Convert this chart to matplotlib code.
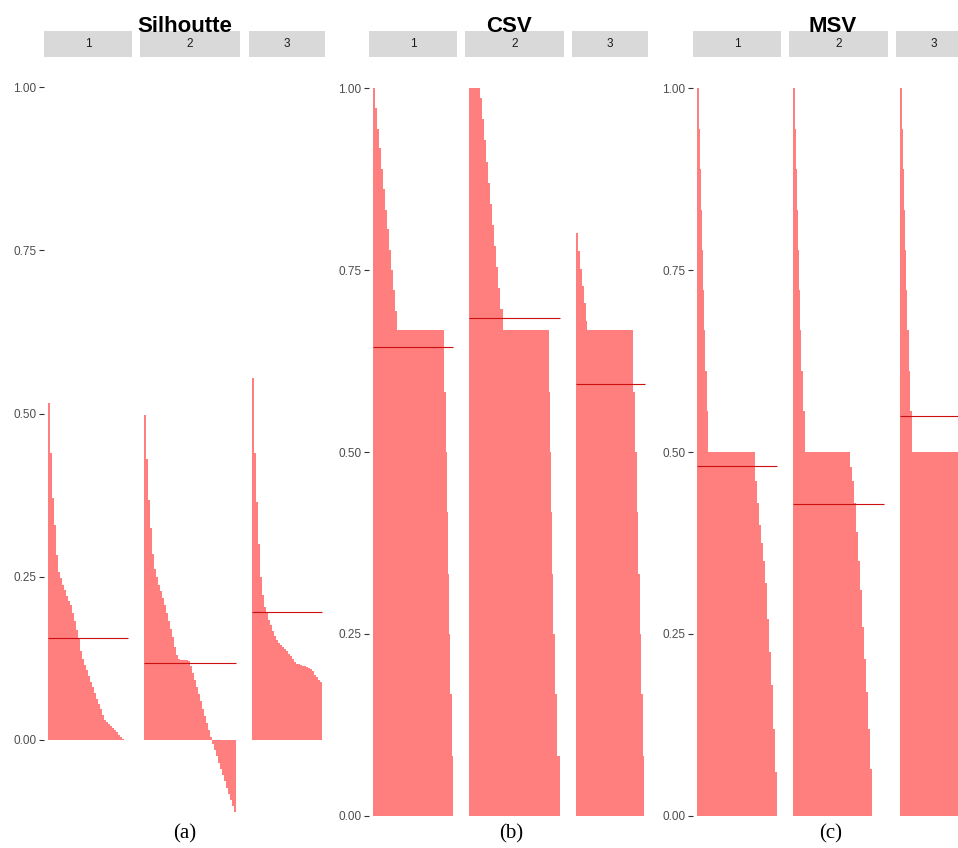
import numpy as np
import matplotlib
matplotlib.use("Agg")
import matplotlib.pyplot as plt

plt.rcParams["font.family"] = ["Liberation Sans", "DejaVu Sans"]

clusters = ["1", "2", "3"]
panel_titles = ["Silhoutte", "CSV", "MSV"]
panel_tags = ["(a)", "(b)", "(c)"]
y_ticks = [0.0, 0.25, 0.5, 0.75, 1.0]
y_tick_labels = ["0.00", "0.25", "0.50", "0.75", "1.00"]

# Silhouette width of each member, sorted within its cluster
sil_c1 = [0.516, 0.44, 0.37, 0.33, 0.284, 0.258, 0.248, 0.238, 0.23, 0.221,
          0.213, 0.206, 0.195, 0.182, 0.168, 0.154, 0.137, 0.124, 0.115, 0.107,
          0.098, 0.089, 0.081, 0.072, 0.063, 0.055, 0.047, 0.039, 0.031, 0.028,
          0.025, 0.022, 0.019, 0.015, 0.012, 0.008, 0.005, 0.002, 0.0, 0.0]
sil_c2 = [0.498, 0.43, 0.367, 0.325, 0.285, 0.262, 0.25, 0.238, 0.228, 0.218,
          0.207, 0.195, 0.183, 0.17, 0.157, 0.143, 0.13, 0.124, 0.123, 0.123,
          0.122, 0.122, 0.121, 0.114, 0.103, 0.092, 0.081, 0.07, 0.059, 0.048,
          0.037, 0.026, 0.015, 0.004, -0.006, -0.016, -0.025, -0.035, -0.044, -0.054,
          -0.063, -0.073, -0.082, -0.092, -0.101, -0.11]
sil_c3 = [0.554, 0.44, 0.365, 0.30, 0.25, 0.222, 0.204, 0.194, 0.184, 0.176,
          0.167, 0.159, 0.153, 0.149, 0.146, 0.143, 0.14, 0.136, 0.132, 0.128,
          0.124, 0.12, 0.117, 0.116, 0.115, 0.114, 0.113, 0.112, 0.111, 0.108,
          0.105, 0.1, 0.096, 0.092, 0.089]
sil_mean = [0.156, 0.118, 0.196]

# CSV scores per cluster, stored as (level, number of members at that level)
csv_c1_levels = [1.0, 0.972, 0.944, 0.917, 0.889, 0.861, 0.833, 0.806, 0.778, 0.75,
                 0.722, 0.694, 0.667, 0.583, 0.5, 0.417, 0.333, 0.25, 0.167, 0.083]
csv_c1_counts = [2, 2, 2, 2, 2, 2, 2, 2, 2, 2, 2, 2, 47, 2, 1, 1, 1, 1, 2, 1]
csv_c2_levels = [1.0, 0.986, 0.957, 0.928, 0.899, 0.87, 0.841, 0.812, 0.783, 0.754,
                 0.725, 0.696, 0.667, 0.583, 0.5, 0.417, 0.333, 0.25, 0.167, 0.083]
csv_c2_counts = [11, 2, 2, 2, 2, 2, 2, 2, 2, 2, 2, 3, 46, 1, 1, 1, 1, 2, 2, 3]
csv_c3_levels = [0.801, 0.776, 0.752, 0.728, 0.704, 0.68, 0.667, 0.583, 0.5, 0.417,
                 0.333, 0.25, 0.167, 0.083, 0.0]
csv_c3_counts = [2, 2, 2, 2, 2, 1, 46, 2, 2, 1, 2, 1, 2, 1, 1]
csv_mean = [0.644, 0.684, 0.593]

# MSV scores per cluster, same encoding
msv_c1_levels = [1.0, 0.944, 0.889, 0.833, 0.778, 0.722, 0.667, 0.611, 0.556, 0.5,
                 0.46, 0.43, 0.40, 0.375, 0.35, 0.32, 0.27, 0.225, 0.18, 0.12, 0.06]
msv_c1_counts = [2, 1, 1, 1, 1, 1, 1, 2, 1, 47, 2, 2, 2, 2, 2, 2, 2, 2, 2, 2, 2]
msv_c2_levels = [1.0, 0.944, 0.889, 0.833, 0.778, 0.722, 0.667, 0.611, 0.556, 0.5,
                 0.48, 0.46, 0.43, 0.39, 0.35, 0.31, 0.26, 0.215, 0.17, 0.12, 0.065, 0.0]
msv_c2_counts = [2, 1, 1, 1, 1, 1, 1, 2, 2, 45, 2, 2, 2, 2, 2, 2, 2, 2, 2, 2, 2, 12]
msv_c3_levels = [1.0, 0.944, 0.889, 0.833, 0.778, 0.722, 0.667, 0.611, 0.556, 0.5,
                 0.389, 0.278, 0.167, 0.056]
msv_c3_counts = [2, 1, 1, 1, 1, 1, 2, 1, 2, 48, 3, 2, 2, 2]
msv_mean = [0.481, 0.428, 0.550]


def expand(levels, counts):
    return np.repeat(np.asarray(levels, float), counts)


W, H = 958, 848
fig = plt.figure(figsize=(W / 100, H / 100), dpi=100)
fig.patch.set_facecolor("white")


def box(x0, y0, x1, y1):
    """Pixel box (top-left origin) -> figure fraction rect."""
    return [x0 / W, 1 - y1 / H, (x1 - x0) / W, (y1 - y0) / H]


FILL = "#FF7F7F"
MEAN_LINE = "#CC1010"
STRIP = "#D9D9D9"
STRIP_TOP, STRIP_BOT, PANEL_BOT = 31, 57, 848
PAD = 0.045
GAP = 8.4

panels = [
    dict(series=[np.array(sil_c1), np.array(sil_c2), np.array(sil_c3)], means=sil_mean,
         left=44.3, unit=2.0, zero=740.0, scale=653.0, tag_x=185),
    dict(series=[expand(csv_c1_levels, csv_c1_counts), expand(csv_c2_levels, csv_c2_counts),
                 expand(csv_c3_levels, csv_c3_counts)], means=csv_mean,
         left=369.3, unit=1.0, zero=816.0, scale=728.0, tag_x=511),
    dict(series=[expand(msv_c1_levels, msv_c1_counts), expand(msv_c2_levels, msv_c2_counts),
                 expand(msv_c3_levels, msv_c3_counts)], means=msv_mean,
         left=693.3, unit=1.0, zero=816.0, scale=728.0, tag_x=831),
]

for p, title, tag in zip(panels, panel_titles, panel_tags):
    x = p["left"]
    for i, (vals, mean, lab) in enumerate(zip(p["series"], p["means"], clusters)):
        n = len(vals)
        w = n * p["unit"] * (1 + 2 * PAD)
        ax = fig.add_axes(box(x, STRIP_BOT, x + w, PANEL_BOT))
        ax.bar(np.arange(n), vals, width=1.0, color=FILL, linewidth=0,
               antialiased=False, zorder=2)
        ax.hlines(mean, -0.5, n - 0.5, color=MEAN_LINE, linewidth=0.8, zorder=3)
        ax.set_xlim(-0.5 - PAD * n, n - 0.5 + PAD * n)
        ax.set_ylim((p["zero"] - PANEL_BOT) / p["scale"], (p["zero"] - STRIP_BOT) / p["scale"])
        for s in ax.spines.values():
            s.set_visible(False)
        ax.set_xticks([])
        if i == 0:
            ax.set_yticks(y_ticks)
            ax.set_yticklabels(y_tick_labels)
            ax.tick_params(axis="y", length=3.5, width=0.8, color="#333333",
                           labelsize=8.5, labelcolor="#4D4D4D", pad=2)
        else:
            ax.set_yticks([])
        ax.set_facecolor("white")

        sax = fig.add_axes(box(x, STRIP_TOP, x + w, STRIP_BOT))
        sax.set_facecolor(STRIP)
        sax.set_xticks([])
        sax.set_yticks([])
        for s in sax.spines.values():
            s.set_visible(False)
        sax.text(0.5, 0.5, lab, ha="center", va="center", fontsize=8.5,
                 color="#1A1A1A", transform=sax.transAxes)
        x += w + GAP

    cx = (p["left"] + x - GAP) / 2
    fig.text(cx / W, 1 - 32 / H, title, ha="center", va="baseline",
             fontsize=16, fontweight="bold", color="black", zorder=10)
    fig.text(p["tag_x"] / W, 1 - 834 / H, tag, ha="center", va="center",
             fontsize=15, family=["Liberation Serif", "DejaVu Serif"], color="black")

fig.savefig("out.png", dpi=100, facecolor="white")
